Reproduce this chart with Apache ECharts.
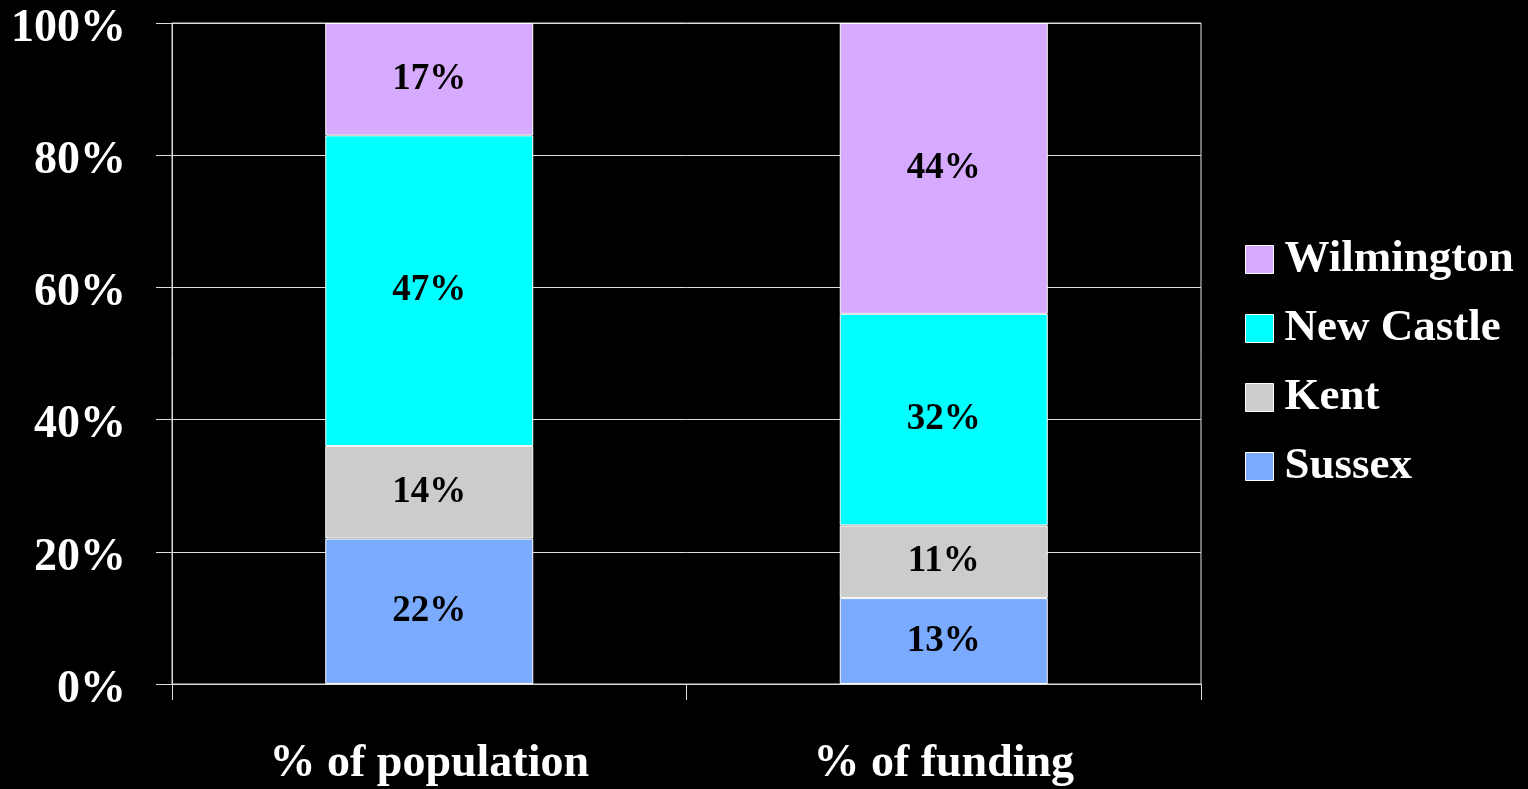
<!DOCTYPE html>
<html>
<head>
<meta charset="utf-8">
<script src="https://cdn.jsdelivr.net/npm/echarts@6/dist/echarts.min.js"></script>
<style>
  html, body { margin: 0; padding: 0; background: #000; }
  #chart { width: 1528px; height: 789px; }
</style>
</head>
<body>
<div id="chart"></div>
<script>
// data
const categories = ["% of population", "% of funding"];
const sussex = [22, 13];
const kent = [14, 11];
const newCastle = [47, 32];
const wilmington = [17, 44];
const yTicks = [0, 20, 40, 60, 80, 100];

const serif = "Liberation Serif";

let myChart = echarts.init(document.getElementById("chart"));

function seg(name, data, color) {
  return {
    name: name,
    type: "bar",
    stack: "total",
    barWidth: 208,
    data: data,
    itemStyle: { color: color, borderColor: "#ffffff", borderWidth: 1 },
    label: {
      show: true,
      position: "inside",
      color: "#000",
      fontFamily: serif,
      fontWeight: "bold",
      fontSize: 37,
      formatter: "{c}%"
    }
  };
}

myChart.setOption({
  backgroundColor: "#000",
  animation: false,
  grid: {
    left: 172, right: 327, top: 23, bottom: 105,
    show: true, borderColor: "#dddddd", borderWidth: 1
  },
  legend: {
    data: ["Wilmington", "New Castle", "Kent", "Sussex"],
    orient: "vertical",
    left: 1240,
    top: 232,
    itemWidth: 28,
    itemHeight: 28,
    itemGap: 24,
    icon: "rect",
    itemStyle: { borderColor: "#ffffff", borderWidth: 1 },
    textStyle: {
      color: "#fff",
      fontFamily: serif,
      fontWeight: "bold",
      fontSize: 45,
      padding: [0, 0, 0, 6]
    }
  },
  xAxis: {
    type: "category",
    data: categories,
    axisLine: { lineStyle: { color: "#dddddd", width: 1 } },
    axisTick: { show: true, length: 16, lineStyle: { color: "#dddddd" } },
    axisLabel: {
      color: "#fff",
      fontFamily: serif,
      fontWeight: "bold",
      fontSize: 46,
      margin: 57
    }
  },
  yAxis: {
    type: "value",
    min: 0,
    max: 100,
    interval: 20,
    axisLine: { show: true, lineStyle: { color: "#dddddd", width: 1 } },
    axisTick: { show: true, length: 16, lineStyle: { color: "#dddddd" } },
    splitLine: { show: true, lineStyle: { color: "#dddddd", width: 1 } },
    axisLabel: {
      margin: 46,
      formatter: function (v) { return yTicks.indexOf(v) >= 0 ? "{p|" + v + "%}" : ""; },
      rich: {
        p: {
          color: "#fff",
          fontFamily: serif,
          fontWeight: "bold",
          fontSize: 46,
          padding: [12, 0, 0, 0]
        }
      }
    }
  },
  series: [
    seg("Sussex", sussex, "#7aabff"),
    seg("Kent", kent, "#cccccc"),
    seg("New Castle", newCastle, "#00ffff"),
    seg("Wilmington", wilmington, "#d6aaff")
  ]
});
window.onresize = myChart.resize;
</script>
</body>
</html>
